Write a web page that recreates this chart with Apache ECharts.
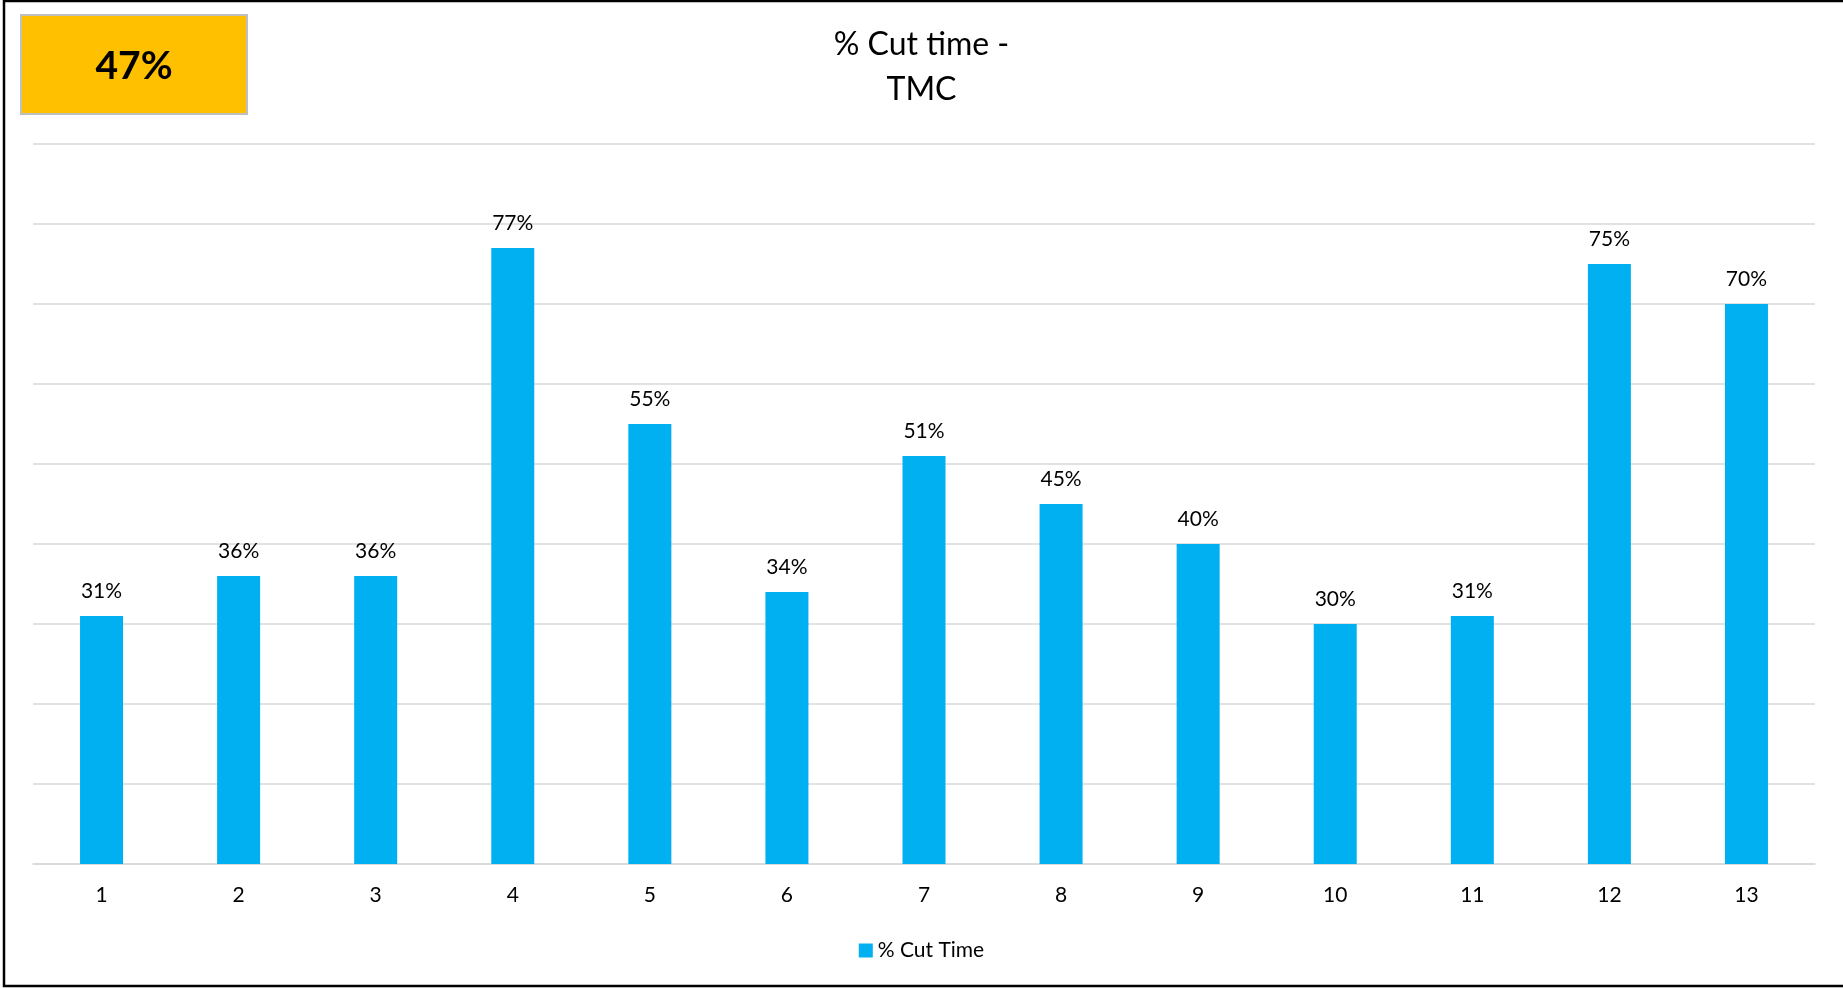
<!DOCTYPE html>
<html>
<head>
<meta charset="utf-8">
<title>% Cut time - TMC</title>
<script src="https://cdn.jsdelivr.net/npm/echarts@6/dist/echarts.min.js"></script>
<style>
  html, body { margin: 0; padding: 0; background: #ffffff; }
  #chart { width: 1843px; height: 988px; }
</style>
</head>
<body>
<div id="chart"></div>
<script>
// Periods shown along the category axis
const categories = ['1', '2', '3', '4', '5', '6', '7', '8', '9', '10', '11', '12', '13'];
// Share of cut time per period, in percent
const cutTimePct = [31, 36, 36, 77, 55, 34, 51, 45, 40, 30, 31, 75, 70];
// Overall figure shown in the summary badge
const overallPct = 47;
// Value axis range (percent)
const yMin = 0;
const yMax = 90;
const yStep = 10;

const FONT = 'Lato, "Open Sans", "Noto Sans", sans-serif';

const chart = echarts.init(document.getElementById('chart'), null, { renderer: 'canvas' });

chart.setOption({
  backgroundColor: '#ffffff',
  animation: false,
  title: {
    text: '% Cut time -\nTMC',
    left: 'center',
    top: 17,
    textStyle: {
      fontFamily: FONT,
      fontSize: 32,
      fontWeight: 'normal',
      color: '#000000',
      lineHeight: 45,
      align: 'center'
    }
  },
  legend: {
    data: ['% Cut Time'],
    left: 'center',
    top: 935,
    icon: 'rect',
    itemWidth: 14,
    itemHeight: 14,
    itemGap: 6,
    textStyle: { fontFamily: FONT, fontSize: 21, color: '#000000' }
  },
  grid: { left: 33, right: 28, top: 144, bottom: 124, containLabel: false },
  xAxis: {
    type: 'category',
    data: categories,
    axisLine: { show: true, lineStyle: { color: '#d9d9d9', width: 1.5 } },
    axisTick: { show: false },
    axisLabel: { fontFamily: FONT, fontSize: 21, color: '#000000', margin: 21 }
  },
  yAxis: {
    type: 'value',
    min: yMin,
    max: yMax,
    interval: yStep,
    axisLine: { show: false },
    axisTick: { show: false },
    axisLabel: { show: false },
    splitLine: { show: true, lineStyle: { color: '#d9d9d9', width: 1.5 } }
  },
  series: [{
    name: '% Cut Time',
    type: 'bar',
    data: cutTimePct,
    barWidth: 43,
    itemStyle: { color: '#00B0F0' },
    label: {
      show: true,
      position: 'top',
      distance: 14,
      fontFamily: FONT,
      fontSize: 21,
      color: '#000000',
      formatter: p => p.value + '%'
    }
  }],
  graphic: [
    {
      type: 'rect',
      shape: { x: 4, y: 1, width: 1850, height: 985 },
      style: { fill: 'none', stroke: '#000000', lineWidth: 2.5 },
      silent: true
    },
    {
      type: 'rect',
      shape: { x: 21, y: 15, width: 226, height: 99 },
      style: { fill: '#FFC000', stroke: '#BFBFBF', lineWidth: 2 },
      z: 10
    },
    {
      type: 'text',
      x: 134,
      y: 66,
      style: {
        text: overallPct + '%',
        fontFamily: FONT,
        fontSize: 39,
        fontWeight: 'bold',
        fill: '#000000',
        align: 'center',
        verticalAlign: 'middle'
      },
      z: 11
    }
  ]
});
</script>
</body>
</html>
